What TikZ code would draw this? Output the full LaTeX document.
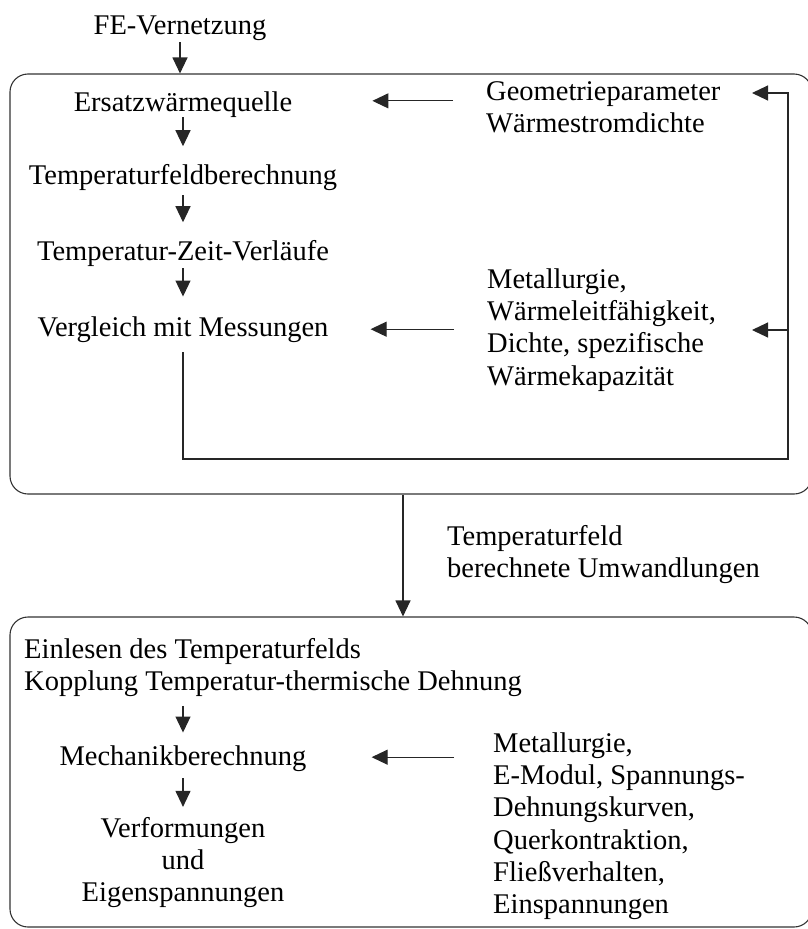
\documentclass[tikz,border=0pt]{standalone}
\usepackage{fontspec}
\setmainfont{Liberation Serif}
\usetikzlibrary{arrows.meta}
\begin{document}
\begin{tikzpicture}[x=1pt,y=-1pt,
  txt/.style={font=\fontsize{28.5}{32.3}\selectfont, inner sep=0pt, text=black},
  blk/.style={txt, align=left, anchor=north west},
  one/.style={txt, anchor=base},
  frame/.style={draw=black!80, line width=1.1pt, rounded corners=18pt, inner sep=0pt},
  arr/.style={draw=black!85, line width=1.1pt, -{Triangle[length=16pt,width=15pt]}}]
\useasboundingbox (0,0) rectangle (807,929);
% frames
\node[frame, minimum width=802pt, minimum height=420pt] (box1) at (411,284) {};
\node[frame, minimum width=802pt, minimum height=310pt] (box2) at (411,772) {};
% texts
\node[one] (fe) at (180,34) {FE-Vernetzung};
\node[one] (ersatz) at (183,111) {Ersatzwärmequelle};
\node[one] (tfb) at (183,184) {Temperaturfeldberechnung};
\node[one] (tzv) at (183,260) {Temperatur-Zeit-Verläufe};
\node[one] (vgl) at (183,336) {Vergleich mit Messungen};
\node[blk] (geo) at (486,77.4) {\strut Geometrieparameter\\Wärmestromdichte};
\node[blk] (met1) at (487,265.4) {\strut Metallurgie,\\Wärmeleitfähigkeit,\\Dichte, spezifische\\Wärmekapazität};
\node[blk] (tf) at (447,522.4) {\strut Temperaturfeld\\berechnete Umwandlungen};
\node[blk] (einl) at (24,635.4) {\strut Einlesen des Temperaturfelds\\Kopplung Temperatur-thermische Dehnung};
\node[one] (mech) at (183,765) {Mechanikberechnung};
\node[txt, align=center, anchor=north] (verf) at (183,814.4) {\strut Verformungen\\und\\Eigenspannungen};
\node[blk] (met2) at (493,729.4) {\strut Metallurgie,\\E-Modul, Spannungs-\\Dehnungskurven,\\Querkontraktion,\\Fließverhalten,\\Einspannungen};
% vertical chain
\draw[arr, shorten <=2pt] (fe) -- (fe |- box1.north);
\draw[arr, shorten >=17.5pt] (ersatz) -- (tfb);
\draw[arr, shorten <=5pt, shorten >=17.5pt] (tfb) -- (tzv);
\draw[arr, shorten <=2pt, shorten >=19.5pt] (tzv) -- (vgl);
% inputs from the right
\draw[arr, shorten <=33pt, shorten >=80pt] ([yshift=3.3pt]ersatz.east -| geo.west) -- ([yshift=3.3pt]ersatz.east);
\draw[arr, shorten <=33pt, shorten >=42pt] (vgl.east -| met1.west) -- (vgl.east);
% feedback loop
\coordinate (fb) at (788,459);
\coordinate (tipG) at (752,93);
\coordinate (tipM) at (752,330);
\draw[arr, shorten <=10pt] (vgl.south) -- (vgl.south |- fb) -- (fb) |- (tipG);
\draw[arr] (fb |- tipM) -- (tipM);
% connection between the frames
\draw[arr] ([xshift=-44pt]tf.west |- box1.south) -- ([xshift=-44pt]tf.west |- box2.north);
% lower frame
\draw[arr, shorten <=9pt, shorten >=12.5pt] (einl.south -| mech.north) -- (mech.north);
\draw[arr, shorten <=7pt, shorten >=7.5pt] (mech) -- (verf);
\draw[arr, shorten <=39pt, shorten >=65pt] ([yshift=1pt]mech.east -| met2.west) -- ([yshift=1pt]mech.east);
\end{tikzpicture}
\end{document}
